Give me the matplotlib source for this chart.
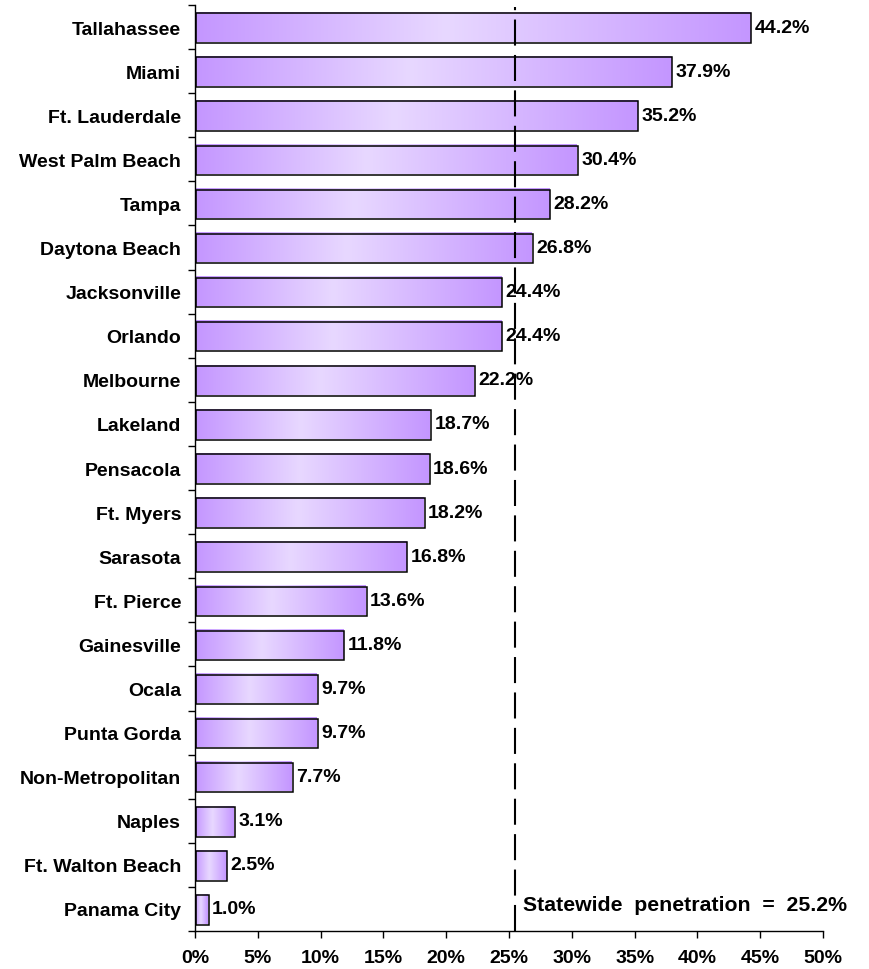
import matplotlib
matplotlib.use("Agg")
import matplotlib.pyplot as plt
import numpy as np
from matplotlib.colors import LinearSegmentedColormap
from matplotlib.patches import Rectangle
import matplotlib.transforms as mtransforms

cities = ["Tallahassee", "Miami", "Ft. Lauderdale", "West Palm Beach", "Tampa",
          "Daytona Beach", "Jacksonville", "Orlando", "Melbourne", "Lakeland",
          "Pensacola", "Ft. Myers", "Sarasota", "Ft. Pierce", "Gainesville",
          "Ocala", "Punta Gorda", "Non-Metropolitan", "Naples", "Ft. Walton Beach",
          "Panama City"]
values = [44.2, 37.9, 35.2, 30.4, 28.2, 26.8, 24.4, 24.4, 22.2, 18.7, 18.6, 18.2,
          16.8, 13.6, 11.8, 9.7, 9.7, 7.7, 3.1, 2.5, 1.0]
statewide_label = "Statewide  penetration  =  25.2%"
statewide_line = 25.5
xticks = [0, 5, 10, 15, 20, 25, 30, 35, 40, 45, 50]

plt.rcParams['font.family'] = ['Liberation Sans', 'DejaVu Sans']
plt.rcParams['font.weight'] = 'bold'
FS = 14

fig = plt.figure(figsize=(8.69, 9.70), dpi=100)
ax = fig.add_axes([195/869, 1-932/970, 628/869, (932-6)/970])

n = len(cities)
ypos = np.arange(n)[::-1]
bar_h = 0.67

cmap = LinearSegmentedColormap.from_list(
    "pg", [(0.0, "#c496ff"), (0.45, "#e8d8ff"), (1.0, "#c496ff")])
grad = np.linspace(0, 1, 256).reshape(1, -1)

shift = mtransforms.offset_copy(ax.transData, fig=fig, x=1.0, y=-1.0, units='dots')

bars = ax.barh(ypos, values, height=bar_h, color="none", edgecolor="none",
               linewidth=0, zorder=3)
for b, v in zip(bars, values):
    x0, y0 = b.get_x(), b.get_y()
    w, h = b.get_width(), b.get_height()
    ax.imshow(grad, cmap=cmap, aspect="auto", extent=(x0, x0 + w, y0, y0 + h),
              zorder=2, interpolation="bicubic")
    ax.add_patch(Rectangle((x0, y0), w, h, fill=False, edgecolor="black",
                           linewidth=1.1, transform=shift, zorder=3))
    ax.text(v + 0.35, y0 + h/2, f"{v:.1f}%", va="center", ha="left",
            fontsize=FS, fontweight="bold", zorder=5)

ax.axvline(statewide_line, ymin=0, ymax=1 - 2/926, color="black", linewidth=1.5,
           dashes=(12.5, 4.5), zorder=4)
ax.text((523-195)/628, (932-906)/926, statewide_label,
        transform=ax.transAxes, ha="left", va="center", fontsize=15.3,
        fontweight="bold")

ax.set_xlim(0, 50)
ax.set_ylim(-0.5, n - 0.5)
ax.set_xticks(xticks)
ax.set_xticklabels([f"{t}%" for t in xticks], fontsize=FS, fontweight="bold")
ax.set_yticks(ypos)
ax.set_yticklabels(cities, fontsize=FS, fontweight="bold")
ax.set_yticks(np.arange(-0.5, n, 1.0), minor=True)
ax.tick_params(axis="y", which="major", length=0, pad=10)
ax.tick_params(axis="y", which="minor", length=5, width=1, direction="out")
ax.tick_params(axis="x", which="major", length=5, width=1, direction="out", pad=8)
for s in ["top", "right"]:
    ax.spines[s].set_visible(False)
ax.spines["left"].set_linewidth(1)
ax.spines["bottom"].set_linewidth(1)

fig.savefig("out.png", dpi=100)
